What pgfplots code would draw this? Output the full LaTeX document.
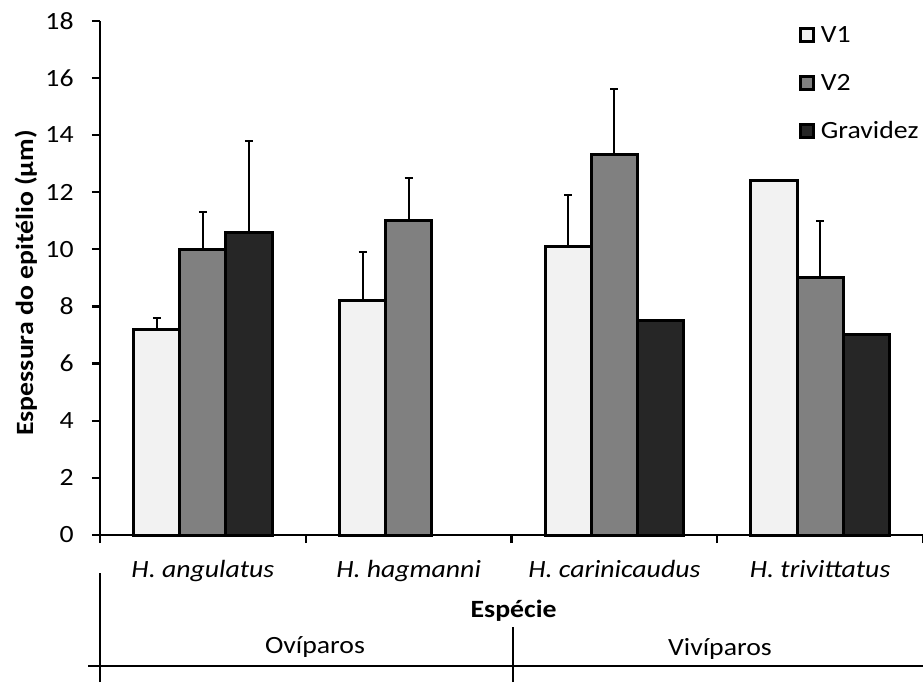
\documentclass[border=0pt]{standalone}
\usepackage{pgfplots}
\usepackage{pgfplotstable}
\pgfplotsset{compat=1.18}
\usepackage{fontspec}
\setmainfont{Carlito}[FakeStretch=1.12]

\definecolor{vone}{HTML}{F2F2F2}
\definecolor{vtwo}{HTML}{808080}
\definecolor{grav}{HTML}{262626}

\newcommand\chartfont{\fontsize{12.4}{15}\selectfont}

% epithelium thickness (mean and upper error) per species;
% x is the bar centre: category centre -0.224 / 0 / +0.224
\pgfplotstableread{
x     y     err
0.276 7.2   0.4
1.276 8.2   1.7
2.276 10.1  1.8
3.276 12.4  nan
}\tabVone
\pgfplotstableread{
x     y     err
0.5   10.0  1.3
1.5   11.0  1.5
2.5   13.3  2.3
3.5   9.0   2.0
}\tabVtwo
\pgfplotstableread{
x     y     err
0.724 10.6  3.2
2.724 7.5   nan
3.724 7.0   nan
}\tabGrav

\begin{document}
\begin{tikzpicture}[font=\chartfont]
\useasboundingbox (0,0) rectangle (461.5pt,341pt);
\begin{axis}[
  at={(50pt,73.5pt)}, anchor=south west,
  scale only axis, width=411.5pt, height=257.15pt,
  xmin=0, xmax=4, ymin=0, ymax=18,
  axis x line=bottom, axis y line=left,
  axis line style={-, line width=1.1pt},
  tick align=outside, major tick length=4pt,
  every tick/.style={black, line width=1.1pt},
  tick label style={font=\chartfont},
  label style={font=\chartfont\bfseries},
  ytick={0,2,...,18},
  /pgf/number format/assume math mode=true,
  yticklabel style={inner sep=0pt, anchor=east, xshift=-9pt},
  xtick={0,1,2,3,4}, xticklabels={},
  extra x ticks={0.5,1.5,2.5,3.5},
  extra x tick labels={H. angulatus, H. hagmanni, H. carinicaudus, H. trivittatus},
  extra x tick style={major tick length=0pt,
    xticklabel style={font=\chartfont\itshape, inner sep=0pt, anchor=base, yshift=-21pt}},
  ylabel={Espessura do epitélio (µm)},
  ylabel style={at={(axis description cs:-0.09,0.49)}, anchor=center},
  legend image code/.code={\draw[#1, line width=1.4pt] (0.7pt,-3.3pt) rectangle (7.3pt,3.3pt);},
  legend style={draw=none, fill=none, inner sep=0pt, outer sep=0pt, font=\chartfont,
    at={(axis cs:3.397,17.79)}, anchor=north west,
    row sep=16pt, column sep=3pt,
    nodes={inner sep=0pt, text height=8pt, text depth=0pt}},
  legend cell align=left,
  clip=false,
  every axis plot/.append style={ybar, bar width=0.224, bar shift=0, draw=black, line width=1.5pt},
  % upper error bars with short horizontal caps
  error bars/y dir=plus,
  error bars/y explicit,
  error bars/error bar style={line width=1pt, black},
  error bars/error mark=-,
  error bars/error mark options={rotate=90, line width=1pt, mark size=2pt, black},
]
\addplot[fill=vone] table[x=x, y=y, y error=err] {\tabVone};
\addplot[fill=vtwo] table[x=x, y=y, y error=err] {\tabVtwo};
\addplot[fill=grav] table[x=x, y=y, y error=err] {\tabGrav};
\legend{V1, V2, Gravidez}
\end{axis}
% grouping table below the category axis
\draw[line width=1pt] (44pt,8pt) -- (461.5pt,8pt);
\draw[line width=1pt] (50pt,0pt) -- (50pt,54.5pt);
\draw[line width=1pt] (256.5pt,0pt) -- (256.5pt,27.5pt);
\node[font=\chartfont\bfseries, anchor=base] at (256.8pt,32.5pt) {Espécie};
\node[anchor=base] at (157.5pt,14.5pt) {Ovíparos};
\node[anchor=base] at (360pt,13.5pt) {Vivíparos};
\end{tikzpicture}
\end{document}
